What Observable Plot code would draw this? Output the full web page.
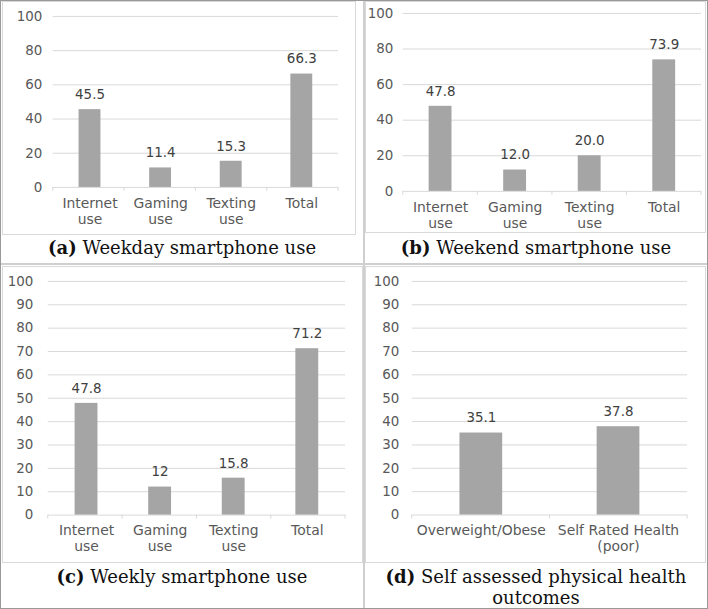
<!DOCTYPE html>
<html><head><meta charset="utf-8">
<script src="https://cdn.jsdelivr.net/npm/d3@7"></script>
<script src="https://cdn.jsdelivr.net/npm/@observablehq/plot@0.6"></script>
<style>
body{margin:0;background:#fff;}
#root{position:relative;width:708px;height:609px;overflow:hidden;background:#fff;}
.box{position:absolute;border:1px solid #d9d9d9;box-sizing:border-box;background:#fff;}
.box svg{position:absolute;left:-1px;top:-1px;}
.cap{position:absolute;font-family:"DejaVu Serif",serif;font-size:18px;color:#111;text-align:center;line-height:21px;}
.ln{position:absolute;background:#cfcfcf;}
.outer{position:absolute;left:0;top:0;width:708px;height:609px;border:1px solid #999;box-sizing:border-box;}
</style></head><body><div id="root"></div>
<script>
// ---- data ----
const usageCategories = ["Internet use", "Gaming use", "Texting use", "Total"];
const usageTickLabels = ["Internet\nuse", "Gaming\nuse", "Texting\nuse", "Total"];
const weekdayValues = [45.5, 11.4, 15.3, 66.3];
const weekdayLabels = ["45.5", "11.4", "15.3", "66.3"];
const weekendValues = [47.8, 12.0, 20.0, 73.9];
const weekendLabels = ["47.8", "12.0", "20.0", "73.9"];
const weeklyValues = [47.8, 12, 15.8, 71.2];
const weeklyLabels = ["47.8", "12", "15.8", "71.2"];
const healthCategories = ["Overweight/Obese", "Self Rated Health (poor)"];
const healthTickLabels = ["Overweight/Obese", "Self Rated Health\n(poor)"];
const healthValues = [35.1, 37.8];
const healthLabels = ["35.1", "37.8"];
const yTicks20 = [0, 20, 40, 60, 80, 100];
const yTicks10 = [0, 10, 20, 30, 40, 50, 60, 70, 80, 90, 100];
const captions = {
  a: ["(a)", "Weekday smartphone use"],
  b: ["(b)", "Weekend smartphone use"],
  c: ["(c)", "Weekly smartphone use"],
  d: ["(d)", "Self assessed physical health<br>outcomes"]
};

// ---- helpers ----
function boundaryTicks(n) {
  return (index, scales, values, dims) => {
    const left = dims.marginLeft, right = dims.width - dims.marginRight;
    const step = (right - left) / n;
    const y0 = dims.height - dims.marginBottom;
    const g = d3.create("svg:g").attr("stroke", "#d9d9d9");
    for (let i = 0; i <= n; i++) {
      const px = left + i * step;
      g.append("line").attr("x1", px).attr("x2", px).attr("y1", y0).attr("y2", y0 + 4);
    }
    return g.node();
  };
}

function panel(o) {
  const data = o.cats.map((c, i) => ({cat: c, value: o.values[i], label: o.labels[i]}));
  const pi = 0.69;
  return Plot.plot({
    width: o.width, height: o.height,
    marginLeft: o.ml, marginRight: o.mr, marginTop: o.mt, marginBottom: o.mb,
    style: {fontFamily: "DejaVu Sans", fontSize: "13.5px", color: "#595959", background: "transparent", overflow: "visible"},
    x: {domain: o.cats, paddingInner: pi, paddingOuter: pi / 2, axis: null, label: null},
    y: {domain: [0, 100], axis: null, label: null},
    marks: [
      Plot.gridY(o.ticks, {stroke: "#d9d9d9", strokeOpacity: 1}),
      Plot.axisY(o.ticks, {tickSize: 0, tickPadding: o.tp, fontSize: 13.5, label: null}),
      Plot.barY(data, {x: "cat", y: "value", fill: "#a5a5a5"}),
      Plot.text(data, {x: "cat", y: "value", text: "label", dy: -15, fill: "#404040", fontSize: 13.5}),
      Plot.axisX({tickSize: 0, tickPadding: 9, fontSize: 14, lineHeight: 1.15, label: null,
        tickFormat: d => o.tickLabels[o.cats.indexOf(d)]}),
      boundaryTicks(o.cats.length)
    ]
  });
}

const root = document.getElementById("root");
function addBox(left, top, w, h, svg) {
  const d = document.createElement("div");
  d.className = "box";
  Object.assign(d.style, {left: left + "px", top: top + "px", width: w + "px", height: h + "px"});
  d.appendChild(svg);
  root.appendChild(d);
}
function addLine(left, top, w, h) {
  const d = document.createElement("div");
  d.className = "ln";
  Object.assign(d.style, {left: left + "px", top: top + "px", width: w + "px", height: h + "px"});
  root.appendChild(d);
}
function addCap(left, top, w, cap) {
  const d = document.createElement("div");
  d.className = "cap";
  Object.assign(d.style, {left: left + "px", top: top + "px", width: w + "px"});
  d.innerHTML = "<b>" + cap[0] + "</b> " + cap[1];
  root.appendChild(d);
}

addLine(363, 0, 2, 609);
addLine(0, 263, 708, 2);

addBox(2, 1, 354, 234, panel({cats: usageCategories, tickLabels: usageTickLabels, values: weekdayValues, labels: weekdayLabels,
  ticks: yTicks20, width: 354, height: 234, ml: 51, mr: 16, mt: 15, mb: 47, tp: 11}));
addBox(365, 1, 341, 232, panel({cats: usageCategories, tickLabels: usageTickLabels, values: weekendValues, labels: weekendLabels,
  ticks: yTicks20, width: 341, height: 232, ml: 38, mr: 3, mt: 12, mb: 41, tp: 10}));
addBox(2, 266, 361, 297, panel({cats: usageCategories, tickLabels: usageTickLabels, values: weeklyValues, labels: weeklyLabels,
  ticks: yTicks10, width: 361, height: 297, ml: 46, mr: 16, mt: 15, mb: 47, tp: 15}));
addBox(365, 266, 341, 297, panel({cats: healthCategories, tickLabels: healthTickLabels, values: healthValues, labels: healthLabels,
  ticks: yTicks10, width: 341, height: 297, ml: 47, mr: 17, mt: 15, mb: 47, tp: 13}));

addCap(0, 237, 364, captions.a);
addCap(364, 237, 344, captions.b);
addCap(0, 566, 364, captions.c);
addCap(364, 566, 344, captions.d);

const outer = document.createElement("div");
outer.className = "outer";
root.appendChild(outer);
</script>
</body></html>
